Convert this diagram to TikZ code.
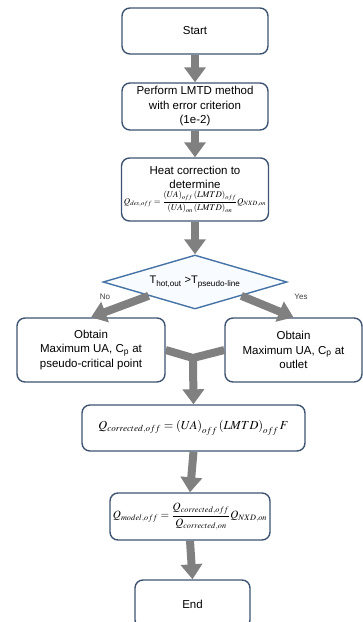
\documentclass[tikz,border=0pt]{standalone}
\usepackage{amsmath}
\usepackage{mathptmx}
\usepackage{graphicx}
\usepackage{fontspec}
\setmainfont{Liberation Sans}
\usepackage{tikz}
\usetikzlibrary{arrows.meta,shapes.geometric}

\definecolor{boxline}{RGB}{63,84,115}
\definecolor{decline}{RGB}{70,115,165}
\definecolor{decfill}{RGB}{248,251,255}
\definecolor{flowgray}{RGB}{128,128,128}

\tikzset{
  stepbox/.style={draw=boxline, line width=1.4pt, rounded corners=8pt, fill=white,
    align=center, inner sep=1pt, font=\fontsize{11.5}{14.5}\selectfont},
  decbox/.style={diamond, aspect=3.4, draw=decline, line width=1.4pt, fill=decfill,
    minimum width=184pt, minimum height=54pt, inner sep=0pt, font=\fontsize{11}{13}\selectfont},
  flow/.style={draw=flowgray, line width=8pt, -{Triangle[width=21pt,length=15pt]}},
  flowline/.style={draw=flowgray, line width=8pt, line join=round},
  lbl/.style={font=\fontsize{8}{9}\selectfont, text=black!75}
}

\begin{document}
\begin{tikzpicture}[x=1pt,y=-1pt]
        \useasboundingbox (0,0) rectangle (363,622);
        \clip (0,0) rectangle (363,622);
        \node[stepbox, minimum width=146pt, minimum height=46pt] (start) at (195,31) {Start};
        \node[stepbox, minimum width=146pt, minimum height=47pt] (lmtd) at (195,106.5)
          {Perform LMTD method\\with error criterion\\(1e-2)};
        \node[stepbox, minimum width=147pt, minimum height=63pt] (heat) at (195,189.5)
          {Heat correction to\\determine\\[1pt]
           \resizebox{142pt}{!}{$Q_{des,off}=\dfrac{\left(UA\right)_{off}\left(LMTD\right)_{off}}{\left(UA\right)_{on}\left(LMTD\right)_{on}}Q_{NXD,on}$}};
        \node[decbox] (dec) at (195,282) {T$_\text{hot,out}$ >T$_\text{pseudo-line}$};
        \node[stepbox, minimum width=148pt, minimum height=64pt] (left) at (91,350)
          {Obtain\\Maximum UA, C$_\text{p}$ at\\pseudo-critical point};
        \node[stepbox, minimum width=137pt, minimum height=64pt] (right) at (293.5,350)
          {Obtain\\Maximum UA, C$_\text{p}$ at\\outlet};
        \node[stepbox, minimum width=223pt, minimum height=46pt] (corr) at (193.5,428)
          {\resizebox{190pt}{!}{$Q_{corrected,off}=\left(UA\right)_{off}\left(LMTD\right)_{off}F$}};
        \node[stepbox, minimum width=160pt, minimum height=47pt] (model) at (190,516.5)
          {\resizebox{154pt}{!}{$Q_{model,off}=\dfrac{Q_{corrected,off}}{Q_{corrected,on}}Q_{NXD,on}$}};
        \node[stepbox, minimum width=115pt, minimum height=48pt] (end) at (192.5,604) {End};
        \node[lbl] (no) at (105,297) {No};
        \node[lbl] (yes) at (301,297) {Yes};
        \coordinate (mrg) at (193,358);
        \draw[flow] (start.south) -- (lmtd.north);
        \draw[flow] (lmtd.south) -- (heat.north);
        \draw[flow] (heat.south) -- (dec.north);
        \draw[flow] (dec.south west) -- (left.north);
        \draw[flow] (dec.south east) -- (right.north);
        \draw[flowline] (left.east) -- (mrg) -- (right.west);
        \draw[flow] (mrg) -- (corr.north);
        \draw[flow] (corr.south) -- (model.north);
        \draw[flow] (model.south) -- (end.north);
\end{tikzpicture}
\end{document}
